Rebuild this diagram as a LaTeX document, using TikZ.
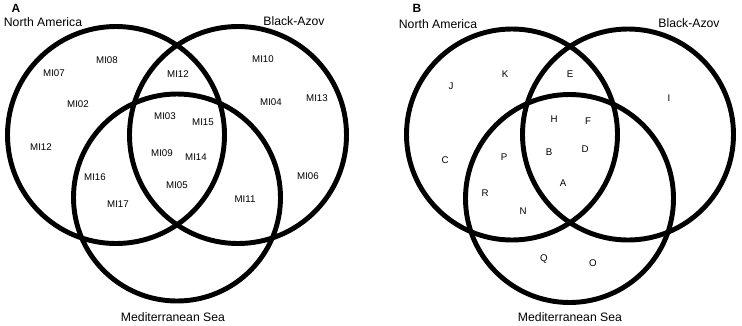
\documentclass[tikz,border=0pt]{standalone}
\usepackage{fontspec}
\setmainfont{Liberation Sans}

\begin{document}
\begin{tikzpicture}[
  x=0.025cm, y=-0.025cm,
  ring/.style = {draw=black, line width=3.5pt},
  region/.style = {inner sep=0pt, font=\fontsize{8.7}{10}\selectfont},
  item/.style = {inner sep=0pt, font=\fontsize{6.9}{8}\selectfont},
  panel/.style = {inner sep=0pt, font=\fontsize{8.5}{10}\selectfont\bfseries}
]
\useasboundingbox (0,0) rectangle (742,325);

% Panel A: markers
\draw[ring] (116,135) circle (108.5);
\draw[ring] (238,135) circle (108.5);
\draw[ring] (177,197.5) circle (103.5);

\node[panel] (lblA) at (16,8) {A};
\node[region] (naA) at (43,22) {North America};
\node[region] (baA) at (294,21) {Black-Azov};
\node[region] (msA) at (173,317) {Mediterranean Sea};

\node[item] (mi08) at (107,60) {MI08};
\node[item] (mi07) at (54,73) {MI07};
\node[item] (mi02) at (78,104) {MI02};
\node[item] (mi12a) at (41,147) {MI12};
\node[item] (mi12b) at (178,74) {MI12};
\node[item] (mi10) at (263,59) {MI10};
\node[item] (mi04) at (271,102) {MI04};
\node[item] (mi13) at (317,98) {MI13};
\node[item] (mi03) at (165,116) {MI03};
\node[item] (mi15) at (203,122) {MI15};
\node[item] (mi09) at (162,153) {MI09};
\node[item] (mi14) at (196,157) {MI14};
\node[item] (mi05) at (177,185) {MI05};
\node[item] (mi16) at (95,177) {MI16};
\node[item] (mi17) at (118,204) {MI17};
\node[item] (mi11) at (245,199) {MI11};
\node[item] (mi06) at (308,176) {MI06};

% Panel B: haplotypes
\draw[ring] (512,134.5) circle (105.5);
\draw[ring] (628,134.5) circle (105.5);
\draw[ring] (569.5,198.5) circle (104);

\node[panel] (lblB) at (417,8) {B};
\node[region] (naB) at (438,24) {North America};
\node[region] (baB) at (689,23) {Black-Azov};
\node[region] (msB) at (570,317) {Mediterranean Sea};

\node[item] (hK) at (505,74) {K};
\node[item] (hJ) at (451,86) {J};
\node[item] (hE) at (570,74) {E};
\node[item] (hI) at (669,98) {I};
\node[item] (hH) at (554,119) {H};
\node[item] (hF) at (588,121) {F};
\node[item] (hC) at (445,160) {C};
\node[item] (hP) at (504,157) {P};
\node[item] (hB) at (549,152) {B};
\node[item] (hD) at (585,149) {D};
\node[item] (hA) at (563,183) {A};
\node[item] (hR) at (485,193) {R};
\node[item] (hN) at (523,211) {N};
\node[item] (hQ) at (544,259) {Q};
\node[item] (hO) at (593,263) {O};
\end{tikzpicture}
\end{document}
